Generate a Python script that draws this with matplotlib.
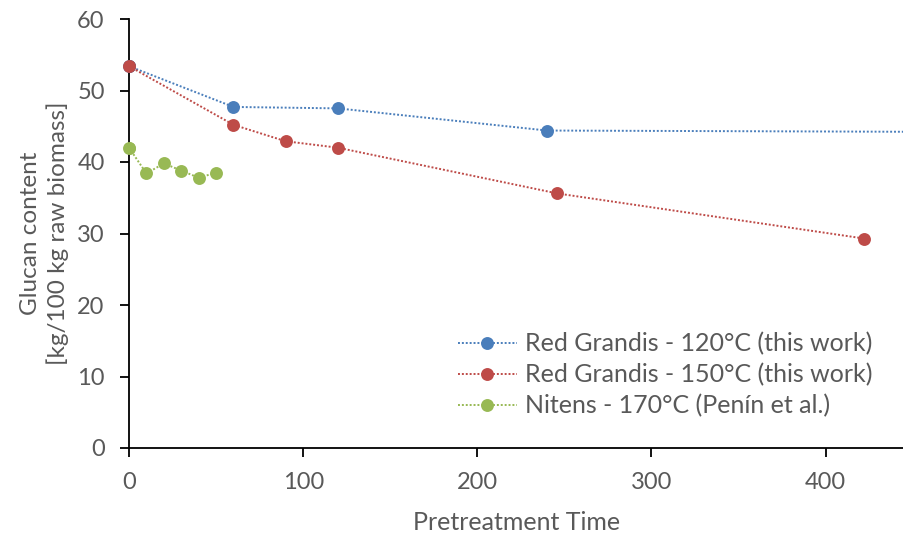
"""
Glucan content of pretreated biomass versus pretreatment time.
"""

import matplotlib
matplotlib.use("Agg")
import matplotlib.pyplot as plt

# Red Grandis at 120 C (last point sits just past the visible x range)
RG120_TIME = [0, 60, 120, 240, 480]
RG120_GLUCAN = [53.4, 47.7, 47.5, 44.4, 44.2]

# Red Grandis at 150 C
RG150_TIME = [0, 60, 90, 120, 246, 422]
RG150_GLUCAN = [53.4, 45.2, 42.9, 42.0, 35.6, 29.3]

# Nitens at 170 C (Penin et al.)
NIT_TIME = [0, 10, 20, 30, 40, 50]
NIT_GLUCAN = [42.0, 38.4, 39.8, 38.8, 37.8, 38.5]

LABELS = ["Red Grandis - 120°C (this work)",
          "Red Grandis - 150°C (this work)",
          "Nitens - 170°C (Penín et al.)"]
COLORS = ["#4A7EBB", "#BE4B48", "#98B954"]

X_TICKS = [0, 100, 200, 300, 400]
Y_TICKS = [0, 10, 20, 30, 40, 50, 60]

TEXT_GREY = "#595959"
plt.rcParams["font.family"] = ["Lato", "DejaVu Sans"]

fig = plt.figure(figsize=(9.04, 5.37), dpi=100)
ax = fig.add_axes([129 / 904, 89 / 537, 1 - 129 / 904, 429 / 537])

series = [(RG120_TIME, RG120_GLUCAN), (RG150_TIME, RG150_GLUCAN), (NIT_TIME, NIT_GLUCAN)]
for (t, g), label, color in zip(series, LABELS, COLORS):
    ax.plot(t, g, linestyle=(0, (1, 1)), linewidth=1.4, color=color,
            marker="o", markersize=9.3, markeredgewidth=0, label=label,
            clip_on=True)

# redraw the points sitting on the y axis so they are not cut in half
for (t, g), color in zip(series, COLORS):
    ax.plot(t[0], g[0], marker="o", markersize=9.3, markeredgewidth=0,
            color=color, linestyle="none", clip_on=False, zorder=5)

ax.set_xlim(0, 445)
ax.set_ylim(0, 60)
ax.set_xticks(X_TICKS)
ax.set_yticks(Y_TICKS)

for side in ["top", "right"]:
    ax.spines[side].set_visible(False)
for side in ["left", "bottom"]:
    ax.spines[side].set_color("black")
    ax.spines[side].set_linewidth(1.3)

ax.tick_params(axis="both", direction="out", length=6.5, width=1.3,
               colors="black", labelcolor=TEXT_GREY, labelsize=17)
ax.tick_params(axis="y", pad=11)
ax.tick_params(axis="x", pad=11)

ax.set_xlabel("Pretreatment Time", color=TEXT_GREY, fontsize=18, labelpad=13)
ax.set_ylabel("Glucan content\n[kg/100 kg raw biomass]", color=TEXT_GREY,
              fontsize=17.5, labelpad=6, linespacing=1.25)

leg = ax.legend(loc="upper left", bbox_to_anchor=(0.4245, 0.27), frameon=False,
                fontsize=18, handlelength=2.36, handletextpad=0.32,
                labelspacing=0.31, borderaxespad=0, borderpad=0)
for text in leg.get_texts():
    text.set_color(TEXT_GREY)

fig.savefig("out.png", dpi=100)
